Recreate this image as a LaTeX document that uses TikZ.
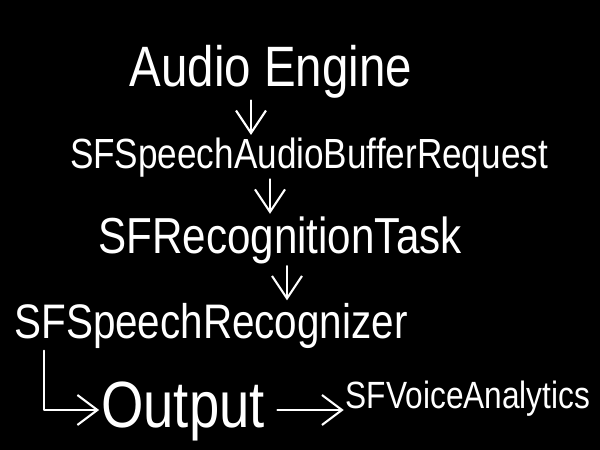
\documentclass[tikz,border=0pt]{standalone}
\usepackage{fontspec}
\setmainfont{Liberation Sans}
\usetikzlibrary{arrows.meta, positioning}

\begin{document}
\begin{tikzpicture}[x=0.02cm, y=-0.02cm,
  word/.style={text=white, anchor=base, inner sep=1pt, yscale=1.2},
  flow/.style={draw=white, line width=1.2pt, line cap=round, line join=round, -{Straight Barb[length=4.5mm, width=6mm]}},
  side/.style={draw=white, line width=1.2pt, line cap=round, line join=round, -{Straight Barb[length=4mm, width=6mm]}}
]
  \fill[black] (0,0) rectangle (600,450);
  \useasboundingbox (0,0) rectangle (600,450);

  \node[word, font=\fontsize{27}{30}\selectfont] (engine) at (271,86) {Audio Engine};
  \node[word, font=\fontsize{20}{24}\selectfont] (buffer) at (309,168) {SFSpeechAudioBufferRequest};
  \node[word, font=\fontsize{24}{28}\selectfont] (task) at (280,253) {SFRecognitionTask};
  \node[word, font=\fontsize{23}{27}\selectfont] (recognizer) at (211,338) {SFSpeechRecognizer};
  \node[word, font=\fontsize{31}{36}\selectfont] (output) at (183,427) {Output};
  \node[word, font=\fontsize{18}{22}\selectfont] (analytics) at (468,408) {SFVoiceAnalytics};

  \coordinate (c1) at (251,0);
  \coordinate (c2) at (270,0);
  \coordinate (c3) at (287,0);
  \coordinate (c4) at (44,410);
  \coordinate (c5) at (0,410);

  \draw[flow] (engine.south -| c1) -- (buffer.north -| c1);
  \draw[flow] (buffer.south -| c2) -- (task.north -| c2);
  \draw[flow] (task.south -| c3) -- (recognizer.north -| c3);
  \draw[side] (recognizer.south -| c4) -- (c4) -- (c4 -| output.west);
  \draw[side, shorten <=6pt] (output.east |- c5) -- (analytics.west |- c5);
\end{tikzpicture}
\end{document}
